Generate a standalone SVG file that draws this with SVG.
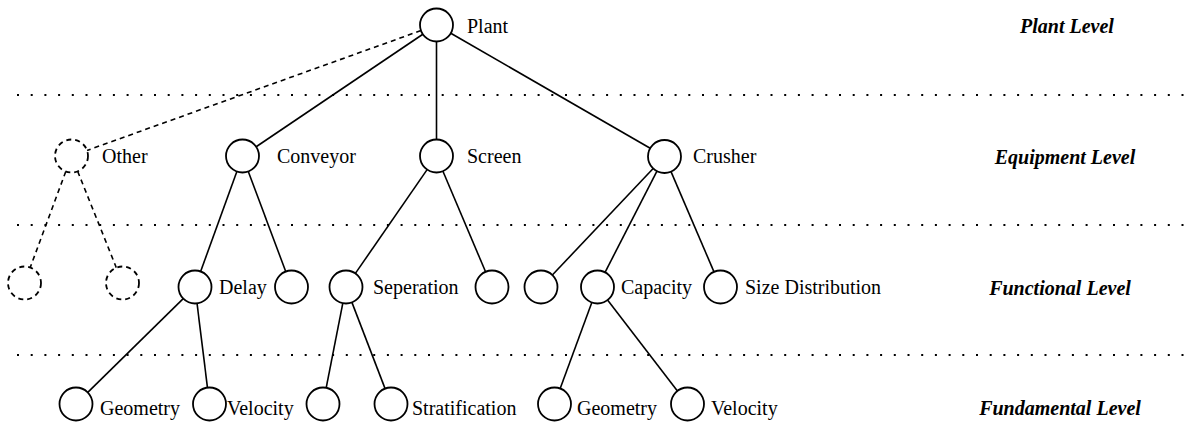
<svg xmlns="http://www.w3.org/2000/svg" width="1189" height="426" viewBox="0 0 1189 426">
<style>
.n{fill:#fff;stroke:#000;stroke-width:1.8}
.nd{fill:#fff;stroke:#000;stroke-width:1.8;stroke-dasharray:5 4}
.c line{stroke:#000;stroke-width:1.6}
.c line.d{stroke-dasharray:5 4}
.sep{stroke:#000;stroke-width:2;stroke-dasharray:2 11.7}
text{font-family:"Liberation Serif","Times New Roman",serif;font-size:20px;fill:#000}
.lv{font-weight:bold;font-style:italic;text-anchor:middle}
</style>
<rect width="1189" height="426" fill="#fff"/>
<g id="separators">
<line class="sep" x1="17" y1="95" x2="1186" y2="95"/>
<line class="sep" x1="17" y1="225" x2="1186" y2="225"/>
<line class="sep" x1="17" y1="355" x2="1186" y2="355"/>
</g>
<g id="levels">
<text class="lv" x="1067" y="33">Plant Level</text>
<text class="lv" x="1065" y="164">Equipment Level</text>
<text class="lv" x="1060" y="295">Functional Level</text>
<text class="lv" x="1060" y="415">Fundamental Level</text>
</g>
<g id="connectors" class="c">
<line class="d" x1="420.97" y1="30.57" x2="87.03" y2="150.43"/>
<line x1="422.83" y1="34.23" x2="256.17" y2="146.77"/>
<line x1="436.5" y1="41.5" x2="436.5" y2="139.5"/>
<line x1="450.79" y1="33.24" x2="650.21" y2="148.26"/>
<line class="d" x1="65.77" y1="171.48" x2="30.23" y2="267.52"/>
<line class="d" x1="77.65" y1="171.31" x2="116.35" y2="267.69"/>
<line x1="236.87" y1="171.52" x2="200.63" y2="271.48"/>
<line x1="248.28" y1="171.45" x2="285.72" y2="271.55"/>
<line x1="427.12" y1="169.58" x2="355.38" y2="273.42"/>
<line x1="442.94" y1="171.19" x2="485.56" y2="271.81"/>
<line x1="653.16" y1="168.48" x2="552.34" y2="275.02"/>
<line x1="656.96" y1="171.18" x2="605.04" y2="272.32"/>
<line x1="671.01" y1="171.66" x2="713.99" y2="271.84"/>
<line x1="183.24" y1="298.57" x2="87.76" y2="392.43"/>
<line x1="197.03" y1="303.37" x2="207.47" y2="387.63"/>
<line x1="342.82" y1="303.19" x2="326.18" y2="387.81"/>
<line x1="351.92" y1="302.4" x2="385.08" y2="388.6"/>
<line x1="591.81" y1="302.49" x2="560.19" y2="388.51"/>
<line x1="607.56" y1="300.08" x2="677.44" y2="390.92"/>
</g>
<g id="plant"><circle class="n" cx="436.5" cy="25" r="16.5"/><text x="467" y="33">Plant</text></g>
<g id="other"><circle class="nd" cx="71.5" cy="156" r="16.5"/><text x="102" y="163">Other</text></g>
<g id="conveyor"><circle class="n" cx="242.5" cy="156" r="16.5"/><text x="277" y="163">Conveyor</text></g>
<g id="screen"><circle class="n" cx="436.5" cy="156" r="16.5"/><text x="467" y="163">Screen</text></g>
<g id="crusher"><circle class="n" cx="664.5" cy="156.5" r="16.5"/><text x="693" y="163">Crusher</text></g>
<g id="other-child-1"><circle class="nd" cx="24.5" cy="283" r="16.5"/></g>
<g id="other-child-2"><circle class="nd" cx="122.5" cy="283" r="16.5"/></g>
<g id="delay"><circle class="n" cx="195" cy="287" r="16.5"/><text x="219" y="294">Delay</text></g>
<g id="conveyor-child-2"><circle class="n" cx="291.5" cy="287" r="16.5"/></g>
<g id="seperation"><circle class="n" cx="346" cy="287" r="16.5"/><text x="373" y="294">Seperation</text></g>
<g id="screen-child-2"><circle class="n" cx="492" cy="287" r="16.5"/></g>
<g id="crusher-child-1"><circle class="n" cx="541" cy="287" r="16.5"/></g>
<g id="capacity"><circle class="n" cx="597.5" cy="287" r="16.5"/><text x="621" y="294">Capacity</text></g>
<g id="size-distribution"><circle class="n" cx="720.5" cy="287" r="16.5"/><text x="745" y="294">Size Distribution</text></g>
<g id="geometry-1"><circle class="n" cx="76" cy="404" r="16.5"/><text x="100" y="415">Geometry</text></g>
<g id="velocity-1"><circle class="n" cx="209.5" cy="404" r="16.5"/><text x="227" y="415">Velocity</text></g>
<g id="seperation-child-1"><circle class="n" cx="323" cy="404" r="16.5"/></g>
<g id="stratification"><circle class="n" cx="391" cy="404" r="16.5"/><text x="412" y="415">Stratification</text></g>
<g id="geometry-2"><circle class="n" cx="554.5" cy="404" r="16.5"/><text x="577" y="415">Geometry</text></g>
<g id="velocity-2"><circle class="n" cx="687.5" cy="404" r="16.5"/><text x="711" y="415">Velocity</text></g>
</svg>
